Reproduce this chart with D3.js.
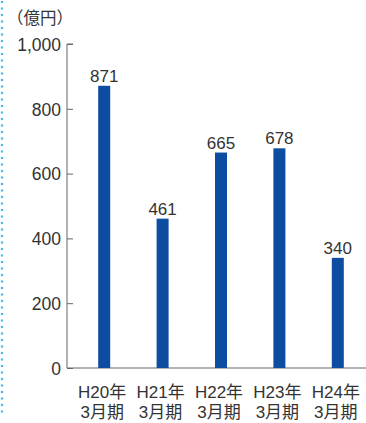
<!DOCTYPE html>
<html>
<head>
<meta charset="utf-8">
<script src="https://cdn.jsdelivr.net/npm/d3@7"></script>
<style>
  body { margin: 0; background: #fff; }
  text { font-family: "Liberation Sans", "Noto Sans CJK JP", sans-serif; fill: #333; }
</style>
</head>
<body>
<script>
const WIDTH = 366, HEIGHT = 423;

// data
const years = ["H20年", "H21年", "H22年", "H23年", "H24年"];
const periods = ["3月期", "3月期", "3月期", "3月期", "3月期"];
const values = [871, 461, 665, 678, 340];
const yTicks = [0, 200, 400, 600, 800, 1000];

const svg = d3.select("body").append("svg")
    .attr("width", WIDTH).attr("height", HEIGHT);

// dotted blue line on the left edge
svg.append("line")
    .attr("x1", 2).attr("x2", 2).attr("y1", 2).attr("y2", 412)
    .attr("stroke", "#4fb8e8").attr("stroke-width", 2.5)
    .attr("stroke-linecap", "round")
    .attr("stroke-dasharray", "0,6.5");

const x = d3.scaleBand().domain(years).range([75, 367]);
const y = d3.scaleLinear().domain([0, 1000]).range([368, 44]);

// y axis, ticks pointing inward
const yAxis = svg.append("g")
    .attr("transform", "translate(67,0)")
    .call(d3.axisLeft(y).tickValues(yTicks).tickSize(-6).tickPadding(6)
        .tickFormat(d3.format(",")));
yAxis.select(".domain").attr("stroke", "#666").attr("d", "M0,368V44H6");
yAxis.selectAll(".tick line").attr("stroke", "#666");
yAxis.selectAll(".tick text").attr("font-size", "17.5px").attr("fill", "#333")
    .attr("dy", "0.36em")
    .style("font-family", "Liberation Sans, sans-serif");

// x baseline
svg.append("line")
    .attr("x1", 67).attr("x2", 366).attr("y1", y(0)).attr("y2", y(0))
    .attr("stroke", "#666");

// unit
svg.append("text").attr("x", 7).attr("y", 24)
    .attr("font-size", "16.5px").text("（億円）");

// bars
const barW = 12;
svg.selectAll("rect.bar").data(values).enter().append("rect")
    .attr("class", "bar")
    .attr("x", (d, i) => x(years[i]) + x.bandwidth() / 2 - barW / 2)
    .attr("y", d => y(d))
    .attr("width", barW)
    .attr("height", d => y(0) - y(d))
    .attr("fill", "#0d4da1");

// value labels
svg.selectAll("text.val").data(values).enter().append("text")
    .attr("class", "val")
    .attr("x", (d, i) => x(years[i]) + x.bandwidth() / 2)
    .attr("y", d => y(d) - 4)
    .attr("text-anchor", "middle")
    .attr("font-size", "17px")
    .text(d => d);

// category labels
svg.selectAll("text.yr").data(years).enter().append("text")
    .attr("class", "yr")
    .attr("x", d => x(d) + x.bandwidth() / 2 - 2)
    .attr("y", 398)
    .attr("text-anchor", "middle")
    .attr("font-size", "17px")
    .text(d => d);
svg.selectAll("text.pd").data(periods).enter().append("text")
    .attr("class", "pd")
    .attr("x", (d, i) => x(years[i]) + x.bandwidth() / 2 - 2)
    .attr("y", 418)
    .attr("text-anchor", "middle")
    .attr("font-size", "17px")
    .text(d => d);
</script>
</body>
</html>
